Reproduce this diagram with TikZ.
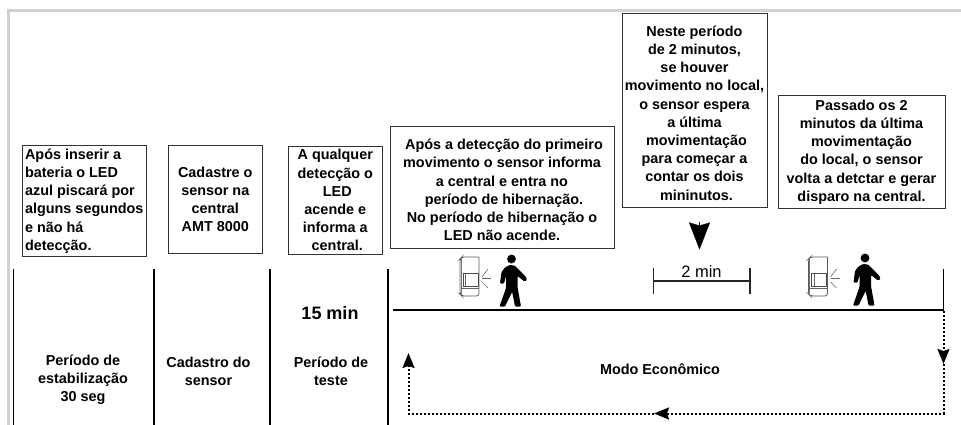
\documentclass[tikz,border=0pt]{standalone}
\usepackage{fontspec}
\setmainfont{Liberation Sans}
\usetikzlibrary{arrows.meta}
\newcommand{\lsp}{\hspace*{4pt}}
\tikzset{
  txtfont/.style={font=\fontsize{14.4}{18.2}\selectfont\bfseries},
  infobox/.style={draw=black!80,line width=1pt,inset boxes,txtfont,align=center},
  inset boxes/.style={inner sep=0pt,outer sep=0pt},
  plain label/.style={inner sep=0pt,txtfont,align=center},
  divider/.style={line width=1.7pt,black},
  flow/.style={line width=2pt,dash pattern=on 2pt off 2pt},
  flowtip/.style={-{Stealth[length=15pt,width=12pt,inset=2pt]}},
  sensorico/.pic={
    \draw[black!65,line width=.8pt,rounded corners=2.5pt] (20,0) -- (3,0) -- (1,2) -- (1,37) -- (3,39) -- (20,39) -- (20,0);
    \draw[black!55,line width=.6pt] (2.2,1) -- (2.2,38);
    \draw[black!70,line width=.9pt] (4,16) rectangle (19,29);
    \draw[black!60,line width=.6pt] (6.5,17) -- (6.5,29) (2,31) -- (20,31);
    \draw[black!60,line width=.6pt] (23,20) -- (29,12) (23,21.5) -- (32,21.5) (23,25) -- (29,31);
  },
  walker/.pic={
    \fill (0,0) circle (4.4);
    \fill[rounded corners=1pt] (-2,6) -- (3,6.5) -- (6,9.5) -- (14.5,18) -- (15.5,21) -- (13,22.5) -- (6,17) -- (6,28) -- (9.5,47.5) -- (3.5,47.5) -- (0.7,33) -- (-6.5,47.5) -- (-12,47.5) -- (-5.5,29) -- (-5.5,17) -- (-7.5,24.5) -- (-11.5,24.5) -- (-10,13) -- (-6.5,8.5) -- cycle;
  }
}
\begin{document}
\begin{tikzpicture}[x=1pt,y=-1pt]
\useasboundingbox (0,0) rectangle (961,425);
% page frame
\coordinate (frameA) at (961,10.5);
\coordinate (frameB) at (8.3,10.5);
\coordinate (frameC) at (8.3,425);
\draw[line width=2.5pt,black!18] (frameA) -- (frameB) -- (frameC);

% text boxes
\node[infobox,align=left,minimum width=124.5pt,minimum height=110pt] (b1) at (84.3,201) {Após inserir a\\bateria o LED\\azul piscará por\\alguns segundos\\e não há\\detecção.};
\node[infobox,minimum width=94pt,minimum height=107pt] (b2) at (215.3,199.5) {Cadastre o\\sensor na\\central\\AMT 8000};
\node[infobox,minimum width=94pt,minimum height=107.5pt] (b3) at (335.3,200.3) {A qualquer\\detecção o\\\lsp LED\\acende e\\informa a\\\lsp central.};
\node[infobox,minimum width=224pt,minimum height=121pt] (b4) at (502,187.5) {\rule{0pt}{15.4pt}\lsp Após a detecção do primeiro\\movimento o sensor informa\\a central e entra no\\\lsp período de hibernação.\\No período de hibernação o\\LED não acende.};
\node[infobox,minimum width=145pt,minimum height=193pt] (b5) at (694.5,110.5) {\rule{0pt}{15.4pt}Neste período\\de 2 minutos,\\se houver\\movimento no local,\\o sensor espera\\a última\\\lsp movimentação\\para começar a\\contar os dois\\\lsp mininutos.};
\node[infobox,minimum width=167pt,minimum height=112pt] (b6) at (861.5,152) {Passado os 2\\minutos da última\\movimentação\\do local, o sensor\\volta a detctar e gerar\\disparo na central.};

% timeline dividers
\foreach \n/\x in {d1/13.5,d2/154,d3/270,d4/387.7}{
  \coordinate (\n t) at (\x,269);
  \coordinate (\n b) at (\x,425);
  \draw[divider] (\n t) -- (\n b);
}
\coordinate (lineL) at (393,310);
\coordinate (lineR) at (943.5,310);
\coordinate (endT) at (943.5,269);
\draw[line width=2pt] (lineL) -- (lineR);
\draw[divider] (endT) -- (lineR);

% 2 min dimension
\coordinate (dimL) at (652.5,281);
\coordinate (dimR) at (750.5,281);
\draw[line width=1.1pt,black!85,{Bar[width=26pt,line width=1.1pt]}-{Bar[width=26pt,line width=1.1pt]}] (dimL) -- node[above=2.5pt,inner sep=0pt,font=\fontsize{16.5}{18}\selectfont,black] (dimtxt) {2 min} (dimR);

% big arrow
\coordinate (bigT) at (699.5,222);
\coordinate (bigB) at (699.5,249.5);
\draw[line width=.1pt,-{Stealth[length=27pt,width=21pt,inset=3pt]}] (bigT) -- (bigB);

% icons
\pic at (459,257) {sensorico};
\pic at (511.5,259) {walker};
\pic at (807.5,257) {sensorico};
\pic at (865,258) {walker};

% labels
\node[plain label] (t1) at (83,380) {Período de\\estabilização\\30 seg};
\node[plain label] (t2) at (208.5,371) {Cadastro do\\sensor};
\node[plain label] (t3) at (331,371) {Período de\\teste};
\node[inner sep=0pt,font=\fontsize{18}{20}\selectfont\bfseries] (t4) at (330,313) {15 min};
\node[plain label] (t5) at (660,369.5) {Modo Econômico};

% dotted loop
\coordinate (l1) at (943.5,311);
\coordinate (l2) at (943.5,364);
\coordinate (l3) at (943.5,413.5);
\coordinate (l4) at (654,413.5);
\coordinate (l5) at (408.5,413.5);
\coordinate (l6) at (408.5,353);
\draw[flow,flowtip] (l1) -- (l2);
\draw[flow,flowtip] (l2) -- (l3) -- (l4);
\draw[flow,flowtip] (l4) -- (l5) -- (l6);
\end{tikzpicture}
\end{document}
